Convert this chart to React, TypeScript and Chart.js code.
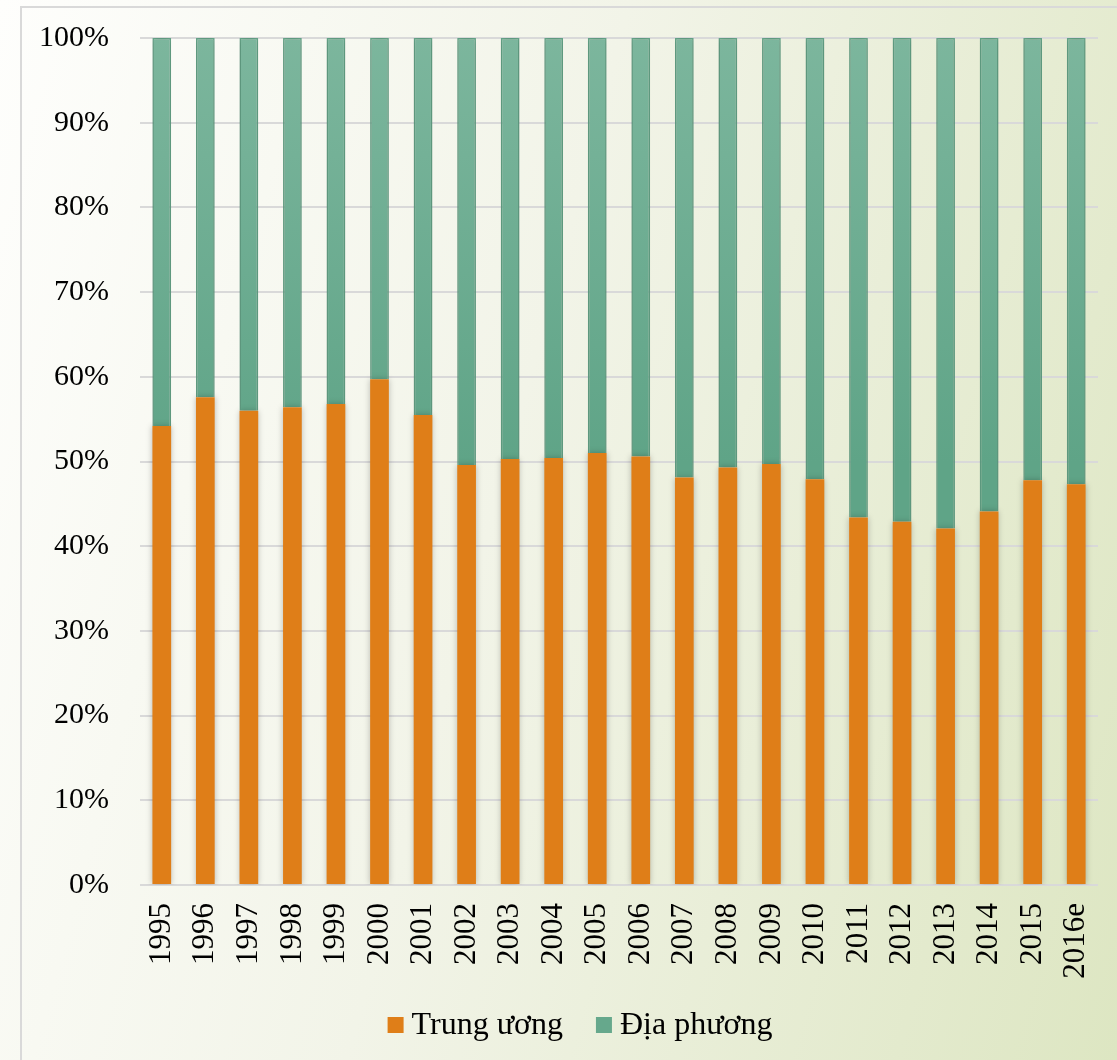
import React, { useEffect, useRef } from "react";
import { Chart, registerables } from "chart.js";

Chart.register(...registerables);

const years = ["1995","1996","1997","1998","1999","2000","2001","2002","2003","2004","2005","2006","2007","2008","2009","2010","2011","2012","2013","2014","2015","2016e"];
const trungUong = [54.2,57.6,56.0,56.4,56.8,59.7,55.5,49.6,50.3,50.4,51.0,50.6,48.1,49.3,49.7,47.9,43.4,42.9,42.1,44.1,47.8,47.3];
const diaPhuong = trungUong.map((v) => +(100 - v).toFixed(1));
const yTicks = [0,10,20,30,40,50,60,70,80,90,100];
const seriesNames = ["Trung ương", "Địa phương"];
const seriesColors = ["#DF7E18", "#66A88C"];

const FONT = "'Liberation Serif', 'Times New Roman', serif";

export default function App() {
  const ref = useRef<HTMLCanvasElement>(null);
  useEffect(() => {
    const canvas = ref.current!;
    const shadow = {
      id: "barShadow",
      beforeDatasetsDraw(chart: any) {
        const c = chart.ctx;
        c.save();
        c.shadowColor = "rgba(0,0,0,0.25)";
        c.shadowBlur = 6;
      },
      afterDatasetsDraw(chart: any) {
        chart.ctx.restore();
      },
    };
    const legend = {
      id: "customLegend",
      afterDraw(chart: any) {
        const c = chart.ctx;
        c.save();
        c.font = `32px ${FONT}`;
        c.textBaseline = "middle";
        c.textAlign = "left";
        const box = 16, gapText = 8, gapItem = 33;
        const widths = seriesNames.map((n) => c.measureText(n).width);
        const total = widths.reduce((a, w) => a + box + gapText + w, 0) + gapItem;
        let x = 580 - total / 2;
        const yc = 1026;
        seriesNames.forEach((n, i) => {
          c.fillStyle = seriesColors[i];
          c.fillRect(x, yc - box / 2 - 1, box, box);
          x += box + gapText;
          c.fillStyle = "#000";
          c.fillText(n, x, yc);
          x += widths[i] + gapItem;
        });
        c.restore();
      },
    };
    const chart = new Chart(canvas, {
      type: "bar",
      data: {
        labels: years,
        datasets: [
          {
            label: seriesNames[0],
            data: trungUong,
            backgroundColor: seriesColors[0],
            borderWidth: 0,
            barPercentage: 0.86,
            categoryPercentage: 0.5,
          },
          {
            label: seriesNames[1],
            data: diaPhuong,
            backgroundColor: (ctx: any) => {
              const { chart } = ctx;
              const a = chart.chartArea;
              if (!a) return seriesColors[1];
              const g = chart.ctx.createLinearGradient(0, a.top, 0, a.bottom);
              g.addColorStop(0, "#7CB69D");
              g.addColorStop(0.5, "#5FA487");
              g.addColorStop(1, "#5FA487");
              return g;
            },
            borderColor: "#68A98C",
            borderWidth: 1.5,
            borderSkipped: "bottom",
            barPercentage: 0.86,
            categoryPercentage: 0.5,
          },
        ],
      },
      options: {
        animation: false,
        responsive: false,
        maintainAspectRatio: false,
        layout: { padding: { left: 0, right: 19, top: 38, bottom: 35 } },
        plugins: {
          tooltip: { enabled: false },
          legend: { display: false },
        },
        scales: {
          x: {
            stacked: true,
            grid: { display: false, drawTicks: false },
            border: { display: false },
            ticks: {
              minRotation: 90,
              maxRotation: 90,
              padding: 18,
              color: "#000",
              font: { family: FONT, size: 31 },
              autoSkip: false,
            },
            afterFit: (s: any) => {
              s.height = 140;
              s.paddingLeft = 0;
              s.paddingRight = 0;
            },
          },
          y: {
            stacked: true,
            min: 0,
            max: 100,
            afterBuildTicks: (s: any) => {
              s.ticks = yTicks.map((v) => ({ value: v }));
            },
            grid: { color: "#D9D9D9", lineWidth: 2, drawTicks: false },
            border: { display: false },
            ticks: {
              padding: 31,
              color: "#000",
              font: { family: FONT, size: 30 },
              callback: (v: any) => v + "%",
            },
            afterFit: (s: any) => {
              s.width = 140;
              s.paddingTop = 0;
              s.paddingBottom = 0;
            },
          },
        },
      },
      plugins: [shadow, legend],
    } as any);
    return () => chart.destroy();
  }, []);

  return (
    <div
      style={{
        position: "absolute",
        left: 0,
        top: 0,
        width: 1117,
        height: 1060,
        overflow: "hidden",
        background: "linear-gradient(105deg, #fefefc 0%, #f2f4e8 45%, #dde6c2 100%)",
      }}
    >
      <div
        style={{
          position: "absolute",
          left: 20,
          top: 6,
          width: 1117,
          height: 1060,
          borderLeft: "2px solid #D9D9D9",
          borderTop: "2px solid #D9D9D9",
        }}
      />
      <canvas
        ref={ref}
        width={1117}
        height={1060}
        style={{ position: "absolute", left: 0, top: 0, width: 1117, height: 1060 }}
      />
    </div>
  );
}
